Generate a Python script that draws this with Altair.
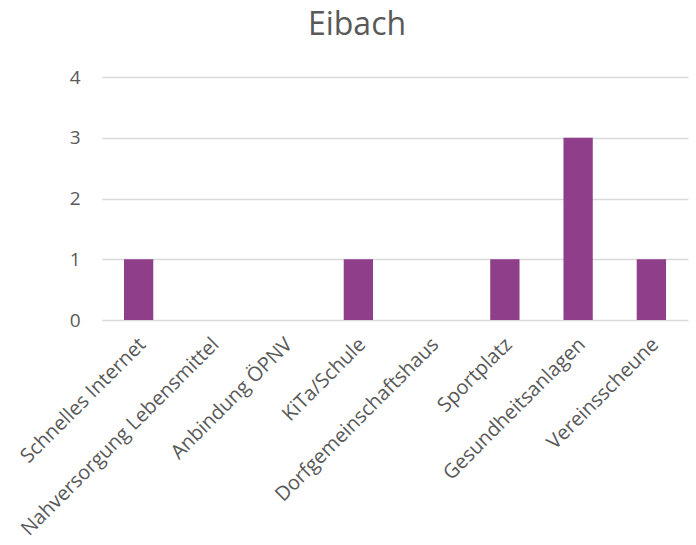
import altair as alt
import pandas as pd

categories = ["Schnelles Internet", "Nahversorgung Lebensmittel", "Anbindung ÖPNV",
              "KiTa/Schule", "Dorfgemeinschaftshaus", "Sportplatz",
              "Gesundheitsanlagen", "Vereinsscheune"]
values = [1, 0, 0, 1, 0, 1, 3, 1]

df = pd.DataFrame({"cat": categories, "val": values})

chart = alt.Chart(df).mark_bar(color="#8F3F89").encode(
    x=alt.X("cat:N", sort=categories, title=None,
            scale=alt.Scale(paddingInner=0.6, paddingOuter=0.3),
            axis=alt.Axis(labelAngle=-45, labelAlign="right", labelBaseline="middle",
                          labelFontSize=20, labelColor="#595959", labelFont="Open Sans",
                          ticks=False, domain=False, labelPadding=21, labelOverlap=False,
                          labelLimit=0, labelOffset=4)),
    y=alt.Y("val:Q", title=None,
            scale=alt.Scale(domain=[0, 4]),
            axis=alt.Axis(values=[0, 1, 2, 3, 4], labelFontSize=19, labelColor="#595959",
                          labelFont="Open Sans", ticks=False, domain=False,
                          gridColor="#D9D9D9", gridWidth=1.5, labelPadding=22)),
).properties(
    width=586, height=243,
    title=alt.TitleParams("Eibach", fontSize=32, font="Open Sans", color="#595959",
                          fontWeight="normal", offset=26, anchor="middle", dx=-38),
    autosize=alt.AutoSizeParams(type="none"),
    padding={"left": 102, "top": 77, "right": 8, "bottom": 225},
).configure_view(stroke=None)

chart.save("out.html", embed_options={"renderer": "svg", "actions": False})
